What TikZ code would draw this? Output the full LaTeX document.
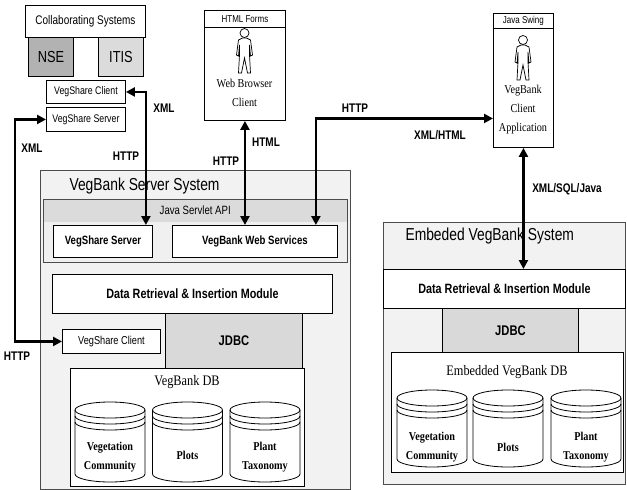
\documentclass[tikz,border=0pt]{standalone}
\usepackage{fontspec}
\setmainfont{Liberation Sans}
\newfontfamily\sanscond[FakeStretch=0.8]{Liberation Sans}
\newfontfamily\serifcond[FakeStretch=0.85]{Liberation Serif}
\usetikzlibrary{arrows.meta}

\begin{document}
\begin{tikzpicture}[x=1pt, y=-1pt, >={Triangle[length=9pt,width=9pt]},
  box/.style={draw=black, line width=0.9pt, fill=white, anchor=north west, inner sep=0pt},
  sysbox/.style={box, draw=black!70, fill=gray!10},
  link/.style={line width=2.6pt, <->},
  lbl/.style={font={\sanscond\bfseries\fontsize{12.5}{14}\selectfont}},
  sans/.style={font={\sanscond\fontsize{#1}{#1}\selectfont}},
  bsans/.style={font={\sanscond\bfseries\fontsize{#1}{#1}\selectfont}},
  serif/.style={font={\serifcond\fontsize{#1}{19}\selectfont}, align=center},
  bserif/.style={font={\serifcond\bfseries\fontsize{#1}{19}\selectfont}, align=center}]

\useasboundingbox (0,0) rectangle (627,490);

%Collaborating systems
\node[box, minimum width=120pt, minimum height=32pt, sans=12.5] (collab) at (25,5) {Collaborating Systems};
\node[box, fill=gray!60, minimum width=45pt, minimum height=39pt, sans=16] (nse) at (28,37) {NSE};
\node[box, fill=gray!28, minimum width=45pt, minimum height=39pt, sans=16] (itis) at (98,37) {ITIS};
\node[box, minimum width=79pt, minimum height=23pt, sans=11] (vsclient) at (46,80) {VegShare Client};
\node[box, minimum width=79pt, minimum height=24pt, sans=11] (vsserver) at (46,107) {VegShare Server};

%Clients
\node[box, minimum width=81pt, minimum height=110pt] (browser) at (204,10) {};
\node[box, minimum width=81pt, minimum height=17pt, sans=10] (browsertitle) at (204,10) {HTML Forms};
\node[serif=12] (browserlbl) at (244.5,93) {Web Browser\\Client};
\node[box, minimum width=60pt, minimum height=134pt] (swing) at (493,13) {};
\node[box, minimum width=60pt, minimum height=15pt, sans=10] (swingtitle) at (493,13) {Java Swing};
\node[serif=12] (swinglbl) at (523,110) {VegBank\\Client\\Application};
\foreach \px/\py in {244.5/28, 523/35} {
  \begin{scope}[shift={(\px,\py)}]
    \draw[line width=0.7pt, fill=white] (0,5) circle (4.5pt);
    \draw[line width=0.7pt] (-2,10) -- (-6,12) -- (-8,27) -- (-6,28) -- (-5,17) -- (-5,27)
      -- (-6,45) -- (-3,45) -- (0,30) -- (3,45) -- (6,45) -- (5,27) -- (5,17) -- (6,28)
      -- (8,27) -- (6,12) -- (2,10) -- cycle;
  \end{scope}
}

%VegBank server system
\node[sysbox, minimum width=310pt, minimum height=319pt] (srvsys) at (40,170) {};
\node[font={\sanscond\fontsize{17.3}{18}\selectfont}, anchor=west] (srvsystitle) at (66,186) {VegBank Server System};
\node[box, draw=black!70, fill=gray!12, minimum width=304pt, minimum height=63pt] (servlet) at (43,199) {};
\node[fill=gray!28, anchor=north west, inner sep=0pt, minimum width=303pt, minimum height=22pt, sans=12] (servlettitle) at (43.5,199.5) {Java Servlet API};
\node[box, minimum width=99pt, minimum height=32pt, bsans=12] (vssrv) at (53,225) {VegShare Server};
\node[box, minimum width=165pt, minimum height=32pt, bsans=12] (websvc) at (172,225) {VegBank Web Services};
\node[box, minimum width=280pt, minimum height=39pt, bsans=13.5] (srvdata) at (52,274) {Data Retrieval \& Insertion Module};
\node[box, fill=gray!30, minimum width=137pt, minimum height=55pt, bsans=14] (srvjdbc) at (165,313) {JDBC};
\node[box, minimum width=98pt, minimum height=24pt, sans=11.5] (vsclient2) at (62,329) {VegShare Client};
\node[box, minimum width=234pt, minimum height=118pt] (srvdb) at (70,368) {};
\node[serif=14.5] (srvdbtitle) at (187,382) {VegBank DB};

%Embeded system
\node[sysbox, minimum width=242pt, minimum height=262pt] (embsys) at (383,222) {};
\node[font={\sanscond\fontsize{17.3}{18}\selectfont}, anchor=west] (embsystitle) at (402,236) {Embeded VegBank System};
\node[box, minimum width=242pt, minimum height=39pt, bsans=13.5] (emdata) at (383,269) {Data Retrieval \& Insertion Module};
\node[box, fill=gray!30, minimum width=136pt, minimum height=44pt, bsans=14] (emjdbc) at (442,308) {JDBC};
\node[box, minimum width=232pt, minimum height=120pt] (emdb) at (391,352) {};
\node[serif=14.5] (emdbtitle) at (507,372) {Embedded VegBank DB};

%Datenbanken
\foreach \cx/\t/\b in {110/402/482, 187.5/402/482, 265/402/482, 432/390/467, 508/390/467, 586/390/467} {
  \draw[line width=0.8pt, fill=white] (\cx-35,\t+8) -- (\cx-35,\b-8) arc (180:360:35pt and 8pt)
    -- (\cx+35,\t+8) arc (0:180:35pt and 8pt) -- cycle;
  \foreach \r in {8,14,20}
    \draw[line width=0.8pt] (\cx-35,\t+\r) arc (180:360:35pt and 8pt);
}
\node[bserif=12] (veg1) at (110,457) {Vegetation\\Community};
\node[bserif=12] (plots1) at (187.5,455) {Plots};
\node[bserif=12] (tax1) at (265,457) {Plant\\Taxonomy};
\node[bserif=12] (veg2) at (432,447) {Vegetation\\Community};
\node[bserif=12] (plots2) at (508,447) {Plots};
\node[bserif=12] (tax2) at (586,447) {Plant\\Taxonomy};

%Verbindungen
\draw[link] (vsclient.east) -| ([xshift=-7pt]vssrv.north east);
\draw[link] (vsserver.west) -- ++(-31,0) |- (vsclient2.west);
\draw[link] (browser.south) -- (browser.south |- websvc.north);
\draw[link] ([yshift=-38pt]swing.west) -| ([xshift=-22pt]websvc.north east);
\draw[link] (swing.south) -- (swing.south |- emdata.north);

\node[lbl] (lxml1) at (164,108) {XML};
\node[lbl] (lhttp1) at (126,156) {HTTP};
\node[lbl] (lxml2) at (32,148) {XML};
\node[lbl] (lhttp2) at (17,356) {HTTP};
\node[lbl] (lhttp3) at (226,161) {HTTP};
\node[lbl] (lhtml) at (266,142) {HTML};
\node[lbl] (lhttp4) at (355,108) {HTTP};
\node[lbl] (lxmlhtml) at (440,135) {XML/HTML};
\node[lbl] (lxsj) at (567,189) {XML/SQL/Java};

\end{tikzpicture}
\end{document}
